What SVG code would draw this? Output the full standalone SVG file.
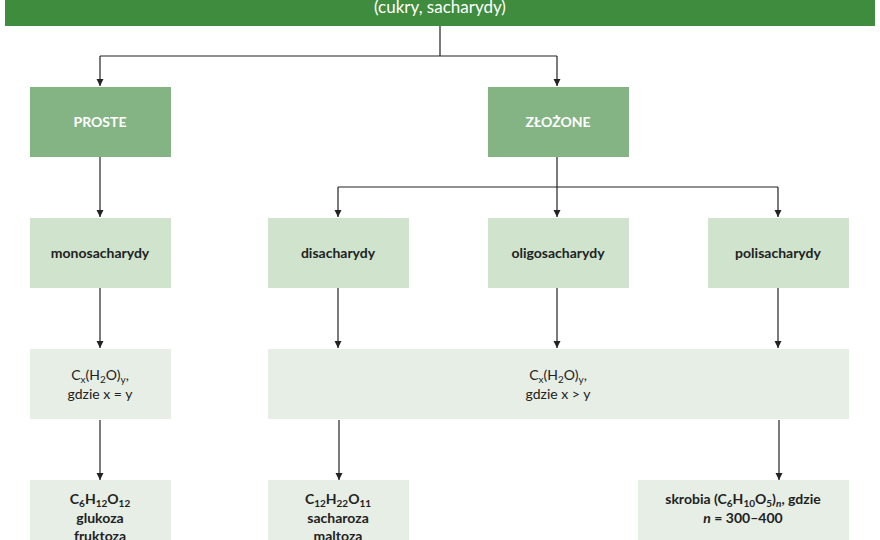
<svg xmlns="http://www.w3.org/2000/svg" width="880" height="540" viewBox="0 0 880 540">
<style>
text{font-family:Lato,"Noto Sans",sans-serif;font-size:14px;text-anchor:middle;fill:#222}
.b{font-weight:bold}
.w{fill:#fff;font-weight:bold}
.mid{fill:#84b484}
.l2{fill:#cfe3cd}
.l3{fill:#e6eee5}
.c path{fill:none;stroke:#222;stroke-width:1.2}
</style>
<defs><marker id="a" viewBox="0 0 10 10" refX="10" refY="5" markerWidth="7" markerHeight="9" orient="auto" markerUnits="userSpaceOnUse"><path d="M0,0L10,5L0,10z" fill="#222"/></marker></defs>
<rect width="880" height="540" fill="#fff"/>
<g id="root"><rect x="5" y="-20" width="870" height="46" fill="#3f8c3f"/><text class="w" x="440" y="13" style="font-weight:normal;font-size:17px">(cukry, sacharydy)</text></g>
<g class="c">
<path d="M440,26V56M100,56H557"/>
<path d="M100,56V86" marker-end="url(#a)"/><path d="M557,56V86" marker-end="url(#a)"/>
<path d="M100,157V217" marker-end="url(#a)"/>
<path d="M557,157V187M338,187H778"/>
<path d="M338,187V217" marker-end="url(#a)"/><path d="M557,187V217" marker-end="url(#a)"/><path d="M778,187V217" marker-end="url(#a)"/>
<path d="M100,288V348" marker-end="url(#a)"/><path d="M338,288V348" marker-end="url(#a)"/><path d="M557,288V348" marker-end="url(#a)"/><path d="M778,288V348" marker-end="url(#a)"/>
<path d="M100,420V480" marker-end="url(#a)"/><path d="M339,420V480" marker-end="url(#a)"/><path d="M779,420V480" marker-end="url(#a)"/>
</g>
<g id="proste"><rect class="mid" x="30" y="87" width="141" height="70"/><text class="w" x="100" y="127">PROSTE</text></g>
<g id="zlozone"><rect class="mid" x="488" y="87" width="141" height="70"/><text class="w" x="558" y="127">ZŁOŻONE</text></g>
<g id="mono"><rect class="l2" x="30" y="218" width="141" height="70"/><text class="b" x="100" y="258">monosacharydy</text></g>
<g id="di"><rect class="l2" x="268" y="218" width="141" height="70"/><text class="b" x="338" y="258">disacharydy</text></g>
<g id="oligo"><rect class="l2" x="488" y="218" width="141" height="70"/><text class="b" x="558" y="258">oligosacharydy</text></g>
<g id="poli"><rect class="l2" x="708" y="218" width="141" height="70"/><text class="b" x="778" y="258">polisacharydy</text></g>
<g id="f1"><rect class="l3" x="30" y="349" width="141" height="70"/><text x="100" y="380">C<tspan font-size="10" dy="3">x</tspan><tspan dy="-3">(H</tspan><tspan font-size="10" dy="3">2</tspan><tspan dy="-3">O)</tspan><tspan font-size="10" dy="3">y</tspan><tspan dy="-3">,</tspan></text><text x="100" y="399">gdzie x = y</text></g>
<g id="f2"><rect class="l3" x="268" y="349" width="581" height="70"/><text x="558" y="380">C<tspan font-size="10" dy="3">x</tspan><tspan dy="-3">(H</tspan><tspan font-size="10" dy="3">2</tspan><tspan dy="-3">O)</tspan><tspan font-size="10" dy="3">y</tspan><tspan dy="-3">,</tspan></text><text x="558" y="399">gdzie x &gt; y</text></g>
<g id="e1"><rect class="l3" x="30" y="480" width="141" height="70"/><text class="b" x="100" y="504">C<tspan font-size="10" dy="3">6</tspan><tspan dy="-3">H</tspan><tspan font-size="10" dy="3">12</tspan><tspan dy="-3">O</tspan><tspan font-size="10" dy="3">12</tspan></text><text class="b" x="100" y="523">glukoza</text><text class="b" x="100" y="541">fruktoza</text></g>
<g id="e2"><rect class="l3" x="268" y="480" width="141" height="70"/><text class="b" x="338" y="504">C<tspan font-size="10" dy="3">12</tspan><tspan dy="-3">H</tspan><tspan font-size="10" dy="3">22</tspan><tspan dy="-3">O</tspan><tspan font-size="10" dy="3">11</tspan></text><text class="b" x="338" y="523">sacharoza</text><text class="b" x="338" y="541">maltoza</text></g>
<g id="e3"><rect class="l3" x="638" y="480" width="211" height="70"/><text class="b" x="743" y="504">skrobia (C<tspan font-size="10" dy="3">6</tspan><tspan dy="-3">H</tspan><tspan font-size="10" dy="3">10</tspan><tspan dy="-3">O</tspan><tspan font-size="10" dy="3">5</tspan><tspan dy="-3">)</tspan><tspan font-size="10" dy="3" font-style="italic">n</tspan><tspan dy="-3">, gdzie</tspan></text><text class="b" x="743" y="523"><tspan font-style="italic">n</tspan> = 300–400</text></g>
</svg>
